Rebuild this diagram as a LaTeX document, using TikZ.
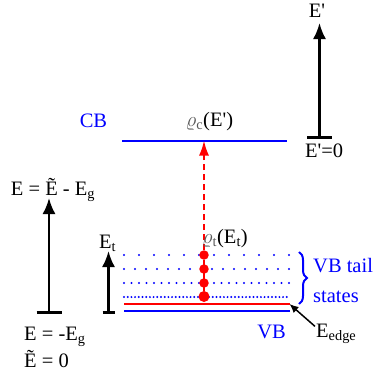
\documentclass[tikz,border=0pt]{standalone}
\usepackage{fontspec}
\setmainfont{Liberation Serif}
\usetikzlibrary{arrows.meta,decorations.pathreplacing}
\tikzset{bandline/.style={line width=2pt},
         axisarr/.style={line width=2.3pt,-{Latex[length=16pt,width=13pt]}},
         axisbar/.style={line width=3pt},
         taildot/.style={circle,fill=red,inner sep=0pt,minimum size=9.5pt},
         lab/.style={font=\fontsize{20.5}{23}\selectfont,inner sep=0pt},
         bluelab/.style={lab,text=blue}}
\newcommand{\rhotxt}[1]{{\color{black!65}$\varrho_{\mathrm{#1}}$}}
\newcommand{\Eprime}{E\textquotesingle}
\begin{document}
\begin{tikzpicture}[x=1pt,y=-1pt]
  \useasboundingbox (0,0) rectangle (376,373);
  % left energy axis
  \coordinate (Ebot) at (49,312.5); \coordinate (Etop) at (49,198);
  \draw[axisarr] (Ebot) -- (Etop);
  \draw[axisbar] ([xshift=-12.5pt]Ebot) -- ([xshift=12.5pt]Ebot);
  \node[lab,anchor=base] (Elab) at (53,195) {E = \~{E} - E\textsubscript{g}};
  \node[lab,anchor=base west] (Egap) at (24,340) {E = -E\textsubscript{g}};
  \node[lab,anchor=base west] (Ezero) at (24,367) {\~{E} = 0};
  % tail energy axis
  \coordinate (tbot) at (108.5,312.5); \coordinate (ttop) at (108.5,251);
  \draw[axisarr] (tbot) -- (ttop);
  \draw[axisbar] ([xshift=-6pt]tbot) -- ([xshift=6pt]tbot);
  \node[lab,anchor=base west] (Etlab) at (99,248) {E\textsubscript{t}};
  % primed axis
  \coordinate (pbot) at (319.5,137.5); \coordinate (ptop) at (319.5,23);
  \draw[axisarr] (pbot) -- (ptop);
  \draw[axisbar] ([xshift=-12.5pt]pbot) -- ([xshift=12.5pt]pbot);
  \node[lab,anchor=base] (Eplab) at (317,17) {\Eprime};
  \node[lab,anchor=base west] (Ep0) at (305,157) {\Eprime=0};
  % bands
  \draw[blue,bandline] (122,140.5) -- (287,140.5);
  \node[bluelab,anchor=base] (cb) at (93.5,127) {CB};
  \node[lab,anchor=base] (rhoc) at (209.5,126) {\rhotxt{c}(\Eprime)};
  \foreach \y/\g in {255/15pt,269/11pt,283/7.5pt,297/3.7pt}
    \draw[blue,line width=2.2pt,line cap=round,dash pattern=on 0pt off \g] (124,\y) -- (290,\y);
  \draw[red,bandline] (124,304) -- (290,304);
  \draw[blue,bandline] (124,311) -- (290,311);
  \node[bluelab,anchor=base] (vb) at (271.5,338) {VB};
  % tail states
  \node[taildot,minimum size=11pt] (t0) at (204,296.5) {};
  \foreach \y [count=\i] in {283,269,255} \node[taildot] (t\i) at (204,\y) {};
  \draw[red,line width=2pt] (t0) -- (t3);
  \coordinate (cbhit) at (204,140.5);
  \draw[red,line width=2pt,dash pattern=on 6pt off 4pt,-{Latex[length=15pt,width=10pt]}] (t3) -- (cbhit);
  \node[lab,anchor=base west] (rhot) at (202,243) {\rhotxt{t}(E\textsubscript{t})};
  \draw[blue,line width=2pt,decorate,decoration={brace,amplitude=8pt}] (299,252) -- (299,304);
  \node[bluelab,anchor=base west] (tail1) at (313,272) {VB tail};
  \node[bluelab,anchor=base west] (tail2) at (313,302) {states};
  % band edge
  \coordinate (edge) at (289.5,304);
  \node[lab,anchor=base west] (edgelab) at (316,337) {E\textsubscript{edge}};
  \draw[line width=1.5pt,-{Latex[length=9pt,width=8pt]}] ([xshift=-1pt,yshift=-3pt]edgelab.north west) -- (edge);
\end{tikzpicture}
\end{document}
